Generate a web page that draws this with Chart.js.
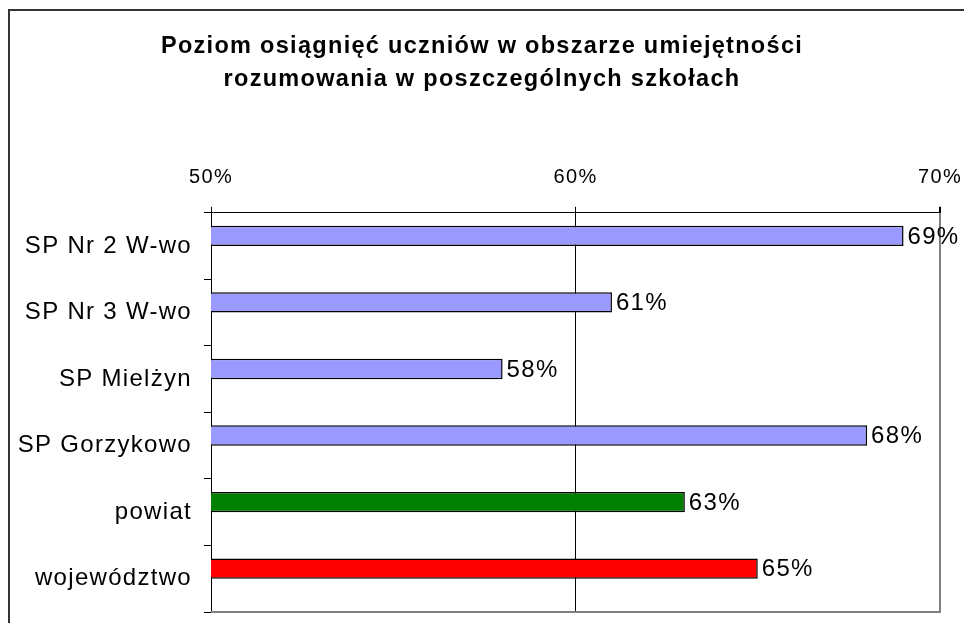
<!DOCTYPE html>
<html>
<head>
<meta charset="utf-8">
<script src="https://cdn.jsdelivr.net/npm/chart.js@4/dist/chart.umd.min.js"></script>
<style>
  html, body { margin: 0; padding: 0; background: #fff; }
  canvas { display: block; }
</style>
</head>
<body>
<canvas id="wykres" width="964" height="623"></canvas>
<script>
const szkoly = ["SP Nr 2 W-wo", "SP Nr 3 W-wo", "SP Mielżyn", "SP Gorzykowo", "powiat", "województwo"];
const wyniki = [69, 61, 58, 68, 63, 65];
const pustaSeria = [null, null, null, null, null, null]; // druga, pusta seria jak w Excelu
const kolory = ["#9999ff", "#9999ff", "#9999ff", "#9999ff", "#008000", "#ff0000"];
const osX = [50, 60, 70];

const FONT = "Arial, 'Liberation Sans', sans-serif";

// rozstrzelenie liter jak w oryginale
const odstepy = {
  id: "odstepy",
  beforeLayout(chart) { chart.ctx.letterSpacing = "1.3px"; },
  beforeDraw(chart) { chart.ctx.letterSpacing = "1.3px"; }
};

// tytul wysrodkowany na calej szerokosci, nie tylko nad obszarem po paddingu
const tytulNaSrodku = {
  id: "tytulNaSrodku",
  afterLayout(chart) {
    const t = chart.titleBlock;
    if (t) {
      t.left = 0;
      t.right = chart.width;
      t.width = chart.width;
    }
  }
};

// ramka wykresu i szara dolna krawedz obszaru kreslenia
const ramka = {
  id: "ramka",
  afterDraw(chart) {
    const ctx = chart.ctx;
    const a = chart.chartArea;
    ctx.save();
    ctx.strokeStyle = "#808080";
    ctx.lineWidth = 2;
    ctx.beginPath();
    ctx.moveTo(a.left, a.bottom);
    ctx.lineTo(a.right + 1, a.bottom);
    ctx.stroke();
    ctx.strokeStyle = "#333";
    ctx.beginPath();
    ctx.moveTo(9, 623);
    ctx.lineTo(9, 10);
    ctx.lineTo(964, 10);
    ctx.stroke();
    ctx.restore();
  }
};

// etykiety wartosci przy koncach slupkow
const etykiety = {
  id: "etykiety",
  afterDatasetsDraw(chart) {
    const ctx = chart.ctx;
    const meta = chart.getDatasetMeta(0);
    ctx.save();
    ctx.font = "24px " + FONT;
    ctx.fillStyle = "#000";
    ctx.textAlign = "left";
    ctx.textBaseline = "middle";
    meta.data.forEach((bar, i) => {
      ctx.fillText(wyniki[i] + "%", bar.x + 4, bar.y + 1);
    });
    ctx.restore();
  }
};

new Chart(document.getElementById("wykres"), {
  type: "bar",
  data: {
    labels: szkoly,
    datasets: [{
      data: wyniki,
      backgroundColor: kolory,
      borderColor: "#000",
      borderWidth: 1.5,
      borderSkipped: false,
      barPercentage: 1,
      categoryPercentage: 0.61
    }, {
      data: pustaSeria,
      barPercentage: 1,
      categoryPercentage: 0.61
    }]
  },
  options: {
    indexAxis: "y",
    responsive: false,
    animation: false,
    layout: { padding: { left: 0, right: 24, top: 0, bottom: 11 } },
    plugins: {
      legend: { display: false },
      tooltip: { enabled: false },
      title: {
        display: true,
        text: ["Poziom osiągnięć uczniów w obszarze umiejętności", "rozumowania w poszczególnych szkołach"],
        color: "#000",
        font: { family: FONT, size: 23.5, weight: "bold", lineHeight: 1.4 },
        padding: { top: 30, bottom: 8 }
      }
    },
    scales: {
      x: {
        position: "top",
        min: 50,
        max: 70,
        afterBuildTicks(scale) { scale.ticks = osX.map(v => ({ value: v })); },
        afterFit(scale) {
          scale.height = 109;
          scale.paddingLeft = 0;
          scale.paddingRight = 0;
        },
        ticks: {
          color: "#000",
          font: { family: FONT, size: 20 },
          padding: 17,
          callback: v => v + "%"
        },
        grid: {
          color: c => (c.tick && c.tick.value === 70 ? "#808080" : "#000"),
          lineWidth: c => (c.tick && c.tick.value === 70 ? 2 : 1),
          tickColor: "#000",
          tickLength: 6
        },
        border: { display: true, color: "#000", width: 1 }
      },
      y: {
        afterFit(scale) {
          scale.width = 211;
          scale.paddingTop = 0;
          scale.paddingBottom = 0;
        },
        ticks: {
          color: "#000",
          font: { family: FONT, size: 24 },
          padding: 12
        },
        grid: {
          offset: true,
          drawOnChartArea: false,
          color: "#000",
          tickLength: 7
        },
        border: { display: true, color: "#000", width: 1 }
      }
    }
  },
  plugins: [odstepy, tytulNaSrodku, ramka, etykiety]
});
</script>
</body>
</html>
